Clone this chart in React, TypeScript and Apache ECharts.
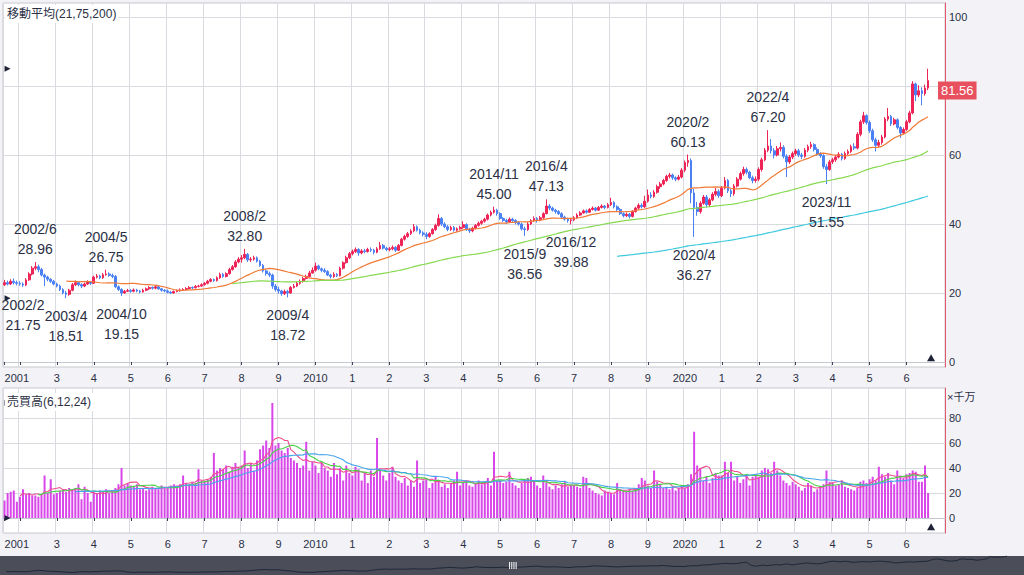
import React, { useEffect, useRef } from 'react';
import * as echarts from 'echarts';

// ---------- data (monthly, 2001/8 .. 2026/8) ----------
const START_YEAR = 2001;
const START_MONTH = 8;
const FIRST_OPEN = 22.4;

const closes = [
  23.0, 22.6, 23.4, 23.0, 22.8,
  22.6, 22.3, 23.8, 25.5, 27.2, 27.6, 26.8, 25.2, 24.6, 24.0, 23.4, 22.6,
  22.0, 21.0, 20.0, 19.6, 20.8, 22.4, 23.0, 22.4, 22.0, 22.6, 23.2, 22.8,
  24.6, 24.9, 24.4, 25.3, 25.5, 25.1, 24.8, 21.8, 21.0, 20.0, 20.5, 20.7,
  20.5, 20.9, 20.6, 20.3, 20.8, 21.2, 21.6, 21.4, 21.8, 21.2, 20.8, 20.6,
  20.2, 20.0, 20.4, 20.6, 20.9, 21.0, 21.3, 21.6, 21.5, 21.9, 22.0, 22.4,
  22.8, 23.4, 23.9, 23.6, 24.4, 25.4, 24.8, 25.6, 26.8, 27.6, 29.0, 29.8,
  30.2, 31.2, 29.6, 29.8, 30.2, 29.2, 28.0, 26.4, 25.6, 25.2, 22.0, 21.0,
  20.6, 19.8, 20.4, 20.0, 21.6, 22.0, 22.8, 23.4, 24.2, 24.8, 25.8, 26.6,
  27.8, 27.0, 26.6, 26.2, 25.2, 24.8, 25.4, 25.0, 27.2, 28.8, 30.2, 31.4,
  32.0, 32.6, 31.6, 32.2, 32.0, 32.6, 32.4, 31.8, 32.8, 33.8, 33.0, 32.6,
  32.8, 33.2, 32.4, 33.8, 35.6, 36.4, 37.2, 38.0, 39.2, 38.2, 37.4, 37.0,
  36.4, 37.2, 38.4, 39.6, 41.6, 40.0, 39.2, 38.4, 39.0, 38.2, 38.6, 39.0,
  39.8, 38.4, 38.0, 38.8, 39.6, 40.2, 40.8, 41.4, 42.6, 43.4, 44.0, 43.0,
  41.6, 41.0, 40.6, 41.4, 41.0, 40.4, 40.0, 38.6, 38.4, 40.0, 41.0, 41.6,
  41.2, 41.8, 43.0, 45.2, 44.6, 44.0, 43.6, 43.0, 42.0, 41.4, 41.0, 41.2,
  41.8, 42.6, 43.2, 43.8, 43.4, 44.2, 44.6, 44.0, 44.8, 45.2, 44.8, 45.6,
  46.2, 45.0, 44.2, 43.0, 42.4, 42.8, 42.2, 43.6, 44.6, 45.4, 45.0, 46.6,
  48.4, 48.0, 49.2, 50.8, 51.6, 52.6, 53.8, 54.2, 53.4, 53.0, 53.6, 55.6,
  57.8, 58.4, 49.0, 44.8, 43.6, 46.0, 47.8, 45.6, 47.0, 48.6, 49.4, 48.2,
  50.4, 52.6, 49.6, 48.8, 51.0, 53.0, 54.6, 55.8, 55.0, 53.4, 52.6, 53.0,
  55.8, 58.6, 61.4, 62.6, 61.2, 60.0, 61.8, 62.2, 59.6, 58.0, 59.4, 60.4,
  61.2, 60.0, 59.6, 61.4, 62.4, 63.0, 61.6, 60.2, 59.8, 56.6, 55.8, 58.0,
  58.6, 59.4, 60.2, 59.0, 60.4, 61.0, 62.4, 62.0, 66.0, 69.6, 71.4, 69.4,
  67.0, 64.4, 62.8, 63.6, 65.2, 70.4, 71.2, 69.0, 70.2, 68.0, 66.4, 67.4,
  69.6, 72.2, 80.6, 77.4, 78.6, 77.8, 79.4, 81.56,
];

const highs = [
  23.8, 23.6, 24.0, 24.2, 23.6,
  23.4, 23.1, 24.3, 26.0, 27.8, 28.96, 28.2, 27.3, 25.6, 25.0, 24.3, 23.8,
  23.0, 22.4, 21.4, 20.6, 21.2, 22.9, 23.6, 23.4, 22.8, 23.0, 23.7, 23.5,
  25.0, 25.5, 25.3, 25.8, 26.75, 26.0, 25.6, 25.2, 22.2, 21.4, 20.9, 21.2,
  21.1, 21.3, 21.2, 20.9, 21.2, 21.6, 22.0, 21.9, 22.2, 22.1, 21.5, 21.1,
  21.0, 20.6, 20.7, 21.0, 21.3, 21.4, 21.7, 22.0, 21.9, 22.3, 22.4, 22.8,
  23.2, 23.8, 24.3, 24.2, 24.8, 25.9, 25.8, 26.0, 27.3, 28.1, 29.5, 30.4,
  31.0, 32.8, 31.6, 30.4, 30.8, 30.6, 29.6, 28.4, 26.9, 26.2, 25.6, 22.6,
  21.8, 20.9, 21.0, 20.9, 22.0, 22.6, 23.3, 23.9, 24.7, 25.3, 26.4, 27.4,
  28.8, 28.2, 27.4, 27.2, 26.6, 25.6, 26.0, 25.8, 27.6, 29.2, 30.8, 31.9,
  32.6, 33.2, 33.0, 32.7, 32.8, 33.1, 33.2, 32.8, 33.3, 34.8, 34.2, 33.4,
  33.3, 33.8, 33.6, 34.2, 36.0, 36.9, 37.7, 38.5, 40.0, 39.6, 38.6, 37.9,
  37.6, 37.6, 38.8, 40.1, 42.8, 42.0, 40.5, 39.7, 39.5, 39.4, 39.0, 39.5,
  40.8, 40.2, 38.9, 39.2, 40.0, 40.7, 41.2, 41.8, 43.0, 43.9, 45.0, 44.4,
  43.4, 42.0, 41.5, 41.9, 41.8, 41.4, 40.8, 40.4, 39.2, 40.5, 41.4, 42.2,
  42.0, 42.3, 43.4, 47.13, 45.8, 45.0, 44.4, 44.0, 43.4, 42.4, 41.8, 41.8,
  42.3, 43.1, 43.7, 44.2, 44.2, 44.6, 45.1, 44.9, 45.2, 45.7, 45.5, 46.1,
  47.6, 46.6, 45.4, 44.6, 43.4, 43.3, 43.2, 44.0, 45.0, 46.0, 46.0, 48.2,
  50.0, 49.2, 49.8, 51.4, 52.2, 53.1, 54.3, 54.8, 54.6, 53.8, 54.2, 56.2,
  58.4, 60.13, 59.0, 50.2, 46.4, 46.6, 48.4, 48.4, 47.5, 49.2, 50.4, 50.0,
  51.0, 53.6, 53.0, 50.2, 51.6, 53.6, 55.2, 56.6, 56.4, 55.4, 54.0, 53.8,
  56.4, 59.2, 62.0, 67.2, 64.6, 62.0, 62.6, 63.6, 62.8, 60.2, 60.0, 61.0,
  61.8, 61.8, 60.6, 62.0, 63.0, 63.8, 63.4, 62.2, 60.8, 60.2, 57.4, 58.6,
  59.2, 60.0, 60.8, 60.6, 61.0, 61.6, 63.0, 63.4, 66.6, 70.2, 72.5, 71.8,
  70.0, 67.6, 65.0, 64.4, 65.8, 71.0, 73.6, 71.6, 70.8, 70.6, 68.4, 68.0,
  70.2, 72.8, 81.4, 81.0, 80.2, 79.6, 80.4, 85.0,
];

const lows = [
  22.0, 22.2, 22.3, 22.5, 22.2,
  22.1, 21.75, 22.0, 23.5, 25.1, 26.6, 26.0, 24.8, 22.0, 23.4, 22.9, 22.2,
  21.6, 20.6, 19.6, 18.51, 19.2, 20.5, 22.0, 21.9, 21.4, 21.7, 22.3, 22.3,
  22.6, 24.2, 24.0, 24.1, 25.0, 24.7, 24.3, 21.4, 20.6, 19.15, 19.8, 20.3,
  20.1, 20.2, 20.2, 19.9, 20.1, 20.5, 20.9, 21.0, 21.1, 20.9, 20.4, 20.2,
  19.9, 19.7, 19.8, 20.2, 20.4, 20.6, 20.8, 21.1, 21.1, 21.3, 21.6, 21.8,
  22.1, 22.5, 23.1, 23.2, 23.3, 24.1, 24.4, 24.5, 25.3, 26.5, 27.3, 28.6,
  28.8, 29.8, 29.0, 29.0, 29.4, 28.8, 27.6, 25.9, 25.0, 24.6, 21.2, 20.4,
  19.8, 19.2, 19.4, 18.72, 19.8, 21.3, 21.7, 22.4, 23.0, 23.9, 24.5, 25.6,
  26.2, 26.6, 26.0, 25.8, 24.9, 24.2, 24.4, 24.6, 24.8, 26.8, 28.5, 29.8,
  30.9, 31.6, 30.8, 31.2, 31.5, 31.7, 31.9, 31.2, 31.5, 32.5, 32.6, 32.1,
  32.1, 32.4, 31.9, 32.2, 33.5, 35.2, 36.0, 36.8, 37.6, 37.8, 37.0, 36.4,
  35.6, 36.0, 36.9, 38.0, 39.2, 39.4, 38.8, 37.9, 38.0, 37.8, 37.8, 38.3,
  38.6, 38.0, 37.4, 37.6, 38.4, 39.2, 39.8, 40.4, 41.0, 42.2, 43.0, 42.4,
  41.2, 40.6, 40.0, 40.3, 40.6, 39.9, 39.5, 38.1, 36.56, 38.0, 39.7, 40.6,
  40.4, 40.8, 41.5, 42.8, 44.0, 43.6, 43.0, 42.6, 41.6, 41.0, 40.4, 39.88,
  40.8, 41.5, 42.3, 43.0, 43.0, 43.2, 43.9, 43.6, 43.8, 44.5, 44.3, 44.5,
  45.2, 44.5, 43.7, 42.6, 41.9, 42.0, 41.6, 41.9, 43.3, 44.2, 44.5, 44.6,
  46.2, 47.4, 47.6, 48.8, 50.2, 51.2, 52.2, 53.2, 52.8, 52.4, 52.6, 53.2,
  55.0, 56.6, 46.0, 36.27, 42.4, 43.0, 45.6, 44.8, 44.9, 46.6, 48.0, 47.6,
  47.8, 50.0, 49.0, 47.8, 48.2, 50.6, 52.6, 54.0, 54.4, 53.0, 51.8, 52.0,
  52.4, 55.2, 58.2, 60.8, 60.4, 59.0, 59.6, 61.0, 59.0, 53.6, 57.4, 58.8,
  59.8, 59.4, 58.8, 59.2, 60.8, 61.8, 61.0, 59.8, 59.2, 56.0, 51.55, 55.4,
  57.4, 58.0, 59.0, 58.4, 58.6, 60.0, 60.6, 61.4, 61.6, 65.4, 69.0, 68.8,
  66.4, 63.8, 61.0, 62.2, 63.0, 64.8, 69.8, 68.4, 68.6, 67.4, 65.0, 66.0,
  67.0, 69.2, 71.8, 75.6, 76.8, 74.4, 77.2, 78.8,
];

// 売買高 (×千万)
const volumes = [
  14, 20, 21, 22, 13,
  17, 23, 19, 20, 18, 18, 17, 19, 34, 20, 31, 19,
  20, 22, 23, 21, 24, 23, 24, 27, 15, 25, 20, 13,
  21, 20, 22, 21, 23, 20, 22, 24, 27, 40, 26, 28,
  26, 25, 27, 23, 24, 22, 23, 25, 24, 23, 26, 25,
  24, 26, 27, 25, 27, 34, 28, 27, 29, 28, 39, 30,
  29, 31, 33, 52, 38, 40, 39, 42, 37, 41, 44, 40,
  42, 54, 40, 44, 38, 46, 55, 58, 62, 56, 92, 58,
  60, 54, 52, 56, 48, 46, 44, 40, 42, 61, 38, 45,
  42, 36, 44, 40, 38, 33, 44, 35, 40, 30, 42, 36,
  34, 41, 39, 30, 36, 28, 38, 33, 64, 38, 34, 30,
  36, 41, 33, 30, 28, 32, 26, 30, 25, 46, 28, 30,
  31, 24, 28, 33, 30, 25, 27, 24, 28, 30, 37, 26,
  28, 30, 26, 25, 28, 30, 27, 29, 32, 26, 53, 30,
  30, 28, 29, 37, 28, 26, 24, 28, 31, 32, 33, 30,
  26, 24, 34, 28, 25, 23, 26, 24, 27, 29, 25, 26,
  26, 25, 24, 33, 32, 24, 22, 20, 19, 18, 22, 21,
  20, 19, 28, 23, 22, 21, 23, 22, 24, 27, 32, 30,
  26, 24, 38, 29, 27, 24, 25, 23, 25, 22, 24, 26,
  24, 27, 35, 69, 42, 40, 30, 33, 28, 32, 36, 34,
  34, 45, 36, 45, 30, 33, 28, 31, 34, 26, 33, 35,
  33, 38, 40, 39, 36, 45, 38, 34, 30, 28, 26, 29,
  27, 25, 22, 24, 28, 26, 21, 23, 25, 27, 38, 29,
  28, 26, 27, 30, 25, 24, 23, 22, 24, 29, 30, 28,
  31, 33, 30, 41, 35, 33, 36, 30, 27, 38, 34, 32,
  35, 36, 38, 37, 29, 29, 42, 20,
];

const PRICE_MA = [21, 75, 200];
const VOLUME_MA = [6, 12, 24];
const priceTicks = [0, 20, 40, 60, 80, 100];
const volumeTicks = [0, 20, 40, 60, 80];

// labelled extremes: [month, kind]
const extremes: [string, 'high' | 'low'][] = [
  ['2002/2', 'low'], ['2002/6', 'high'], ['2003/4', 'low'], ['2004/5', 'high'],
  ['2004/10', 'low'], ['2008/2', 'high'], ['2009/4', 'low'], ['2014/11', 'high'],
  ['2015/9', 'low'], ['2016/4', 'high'], ['2016/12', 'low'], ['2020/2', 'high'],
  ['2020/4', 'low'], ['2022/4', 'high'], ['2023/11', 'low'],
];

// ---------- derived ----------
const categories: string[] = closes.map((_, i) => {
  const m0 = START_MONTH - 1 + i;
  return `${START_YEAR + Math.floor(m0 / 12)}/${(m0 % 12) + 1}`;
});
const PAD_SLOTS = 5;
const axisCats = categories.concat(new Array(PAD_SLOTS).fill(''));
const opens = closes.map((c, i) => (i === 0 ? FIRST_OPEN : closes[i - 1]));
const ohlc = closes.map((c, i) => [opens[i], c, lows[i], highs[i]]);
const LAST = closes.length - 1;

function movingAverage(src: number[], n: number) {
  return src.map((_, i) => {
    if (i < n - 1) return '-';
    let s = 0;
    for (let k = i - n + 1; k <= i; k++) s += src[k];
    return +(s / n).toFixed(3);
  });
}

const yearOf = (c: string) => Number(c.split('/')[0]);
const monthOf = (c: string) => Number(c.split('/')[1]);
const isGrid = (i: number) => {
  const c = axisCats[i];
  return !!c && (i === 0 || monthOf(c) === 1);
};
const isLabel = (i: number) => isGrid(i) && !(i !== 0 && yearOf(axisCats[i]) === START_YEAR + 1);
const yearLabel = (v: string, i: number) => {
  if (!v) return '';
  const y = yearOf(v);
  if (i === 0 || y % 10 === 0) return String(y);
  return String(y % 10);
};

// ---------- styles ----------
const FONT = '"Liberation Sans", Arial, "Noto Sans CJK JP", sans-serif';
const INK = '#2a2f45';
const GRID_LINE = '#d9dbe0';
const FRAME = '#c5c8cf';
const AXIS_RED = '#e8566a';
const UP = '#ee2456';
const DOWN = '#4a80f4';
const MARK = '#1d2236';
const PRICE_MA_COLORS = ['#f07a36', '#86d94e', '#3ec9de'];
const VOLUME_MA_COLORS = ['#ee4f8e', '#47d147', '#45a5ea'];

// layout (pixels)
const PRICE_MIN = -1.45;
const PRICE_MAX = 104.05;
const VOL_MIN = -12;
const VOL_MAX = 104;

function xAxisFor(gridIndex: number) {
  return {
    type: 'category',
    gridIndex,
    data: axisCats,
    boundaryGap: true,
    axisLine: { show: true, lineStyle: { color: FRAME } },
    axisTick: {
      show: true,
      alignWithLabel: true,
      interval: (i: number) => isGrid(i),
      length: 3,
      lineStyle: { color: '#3a3f55' },
    },
    axisLabel: {
      show: true,
      interval: (i: number) => isLabel(i),
      formatter: (v: string, i: number) => yearLabel(v, i),
      alignMinLabel: 'left',
      fontSize: 11,
      color: INK,
      margin: 5,
      fontFamily: FONT,
    },
    splitLine: { show: true, interval: (i: number) => isGrid(i), lineStyle: { color: GRID_LINE, width: 1 } },
  };
}

function yAxisFor(gridIndex: number, min: number, max: number, ticks: number[]) {
  return {
    type: 'value',
    gridIndex,
    position: 'right',
    min,
    max,
    axisLine: { show: true, lineStyle: { color: AXIS_RED, width: 1 } },
    axisTick: { show: false, customValues: ticks },
    axisLabel: { customValues: ticks, fontSize: 11, color: INK, margin: 4, fontFamily: FONT },
    splitLine: { show: true, lineStyle: { color: GRID_LINE, width: 1 } },
  };
}

function buildOption() {
  const maxHigh = Math.max(...highs);
  const minLow = Math.min(...lows);
  const maxVol = Math.max(...volumes);
  const lastClose = closes[LAST];

  const extremePoints = extremes.map(([name, kind]) => {
    const idx = categories.indexOf(name);
    const v = kind === 'high' ? highs[idx] : lows[idx];
    return {
      name,
      coord: [idx, v],
      symbol: 'circle',
      symbolSize: 0,
      itemStyle: { color: 'rgba(0,0,0,0)' },
      label: {
        show: true,
        position: kind === 'high' ? 'top' : 'bottom',
        distance: kind === 'high' ? 3 : 8,
        formatter: `${name}\n${v.toFixed(2)}`,
        fontSize: 14,
        lineHeight: 20,
        color: INK,
        fontFamily: FONT,
      },
    };
  });

  const tri = (coord: [number, number], rotate: number, offset: [number, number], size: number | number[]) => ({
    coord,
    symbol: 'triangle',
    symbolSize: size,
    symbolRotate: rotate,
    symbolOffset: offset,
    itemStyle: { color: MARK },
    label: { show: false },
  });

  const grip = [0, 1, 2, 3].map((k) => ({
    type: 'rect',
    z: 5,
    shape: { x: 509 + k * 2.2, y: 562, width: 1.1, height: 7 },
    style: { fill: '#eeeef3' },
  }));

  return {
    animation: false,
    backgroundColor: '#f3f3f7',
    textStyle: { fontFamily: FONT },
    title: [
      {
        text: '移動平均(21,75,200)',
        left: 5,
        top: 5,
        padding: [3, 2, 3, 2],
        backgroundColor: '#fff',
        textStyle: { fontSize: 12, fontWeight: 'normal', color: INK, fontFamily: FONT },
      },
      {
        text: '売買高(6,12,24)',
        left: 5,
        top: 393,
        padding: [3, 2, 3, 2],
        backgroundColor: '#fff',
        textStyle: { fontSize: 12, fontWeight: 'normal', color: INK, fontFamily: FONT },
      },
    ],
    grid: [
      { left: 3, right: 79, top: 3, bottom: 208, show: true, backgroundColor: '#fff', borderColor: FRAME, borderWidth: 1, outerBoundsMode: 'none' },
      { left: 3, right: 79, top: 388, bottom: 42, show: true, backgroundColor: '#fff', borderColor: FRAME, borderWidth: 1, outerBoundsMode: 'none' },
      { left: 6, right: 17, top: 554, bottom: 0, show: false, outerBoundsMode: 'none' },
    ],
    xAxis: [
      xAxisFor(0),
      xAxisFor(1),
      { type: 'category', gridIndex: 2, data: categories, boundaryGap: false, show: false },
    ],
    yAxis: [
      yAxisFor(0, PRICE_MIN, PRICE_MAX, priceTicks),
      yAxisFor(1, VOL_MIN, VOL_MAX, volumeTicks),
      { type: 'value', gridIndex: 2, min: 10, max: 90, show: false },
    ],
    series: [
      {
        type: 'candlestick',
        name: 'price',
        xAxisIndex: 0,
        yAxisIndex: 0,
        data: ohlc,
        barWidth: '72%',
        itemStyle: { color: UP, color0: DOWN, borderColor: UP, borderColor0: DOWN, borderWidth: 1 },
        markPoint: {
          silent: true,
          data: [
            ...extremePoints,
            tri([0, maxHigh], -90, [3, 0], 6),
            tri([0, minLow], -90, [3, 0], 6),
            tri([LAST, 1.2], 0, [3, 0], [8, 7]),
          ],
        },
        markLine: {
          silent: true,
          symbol: ['none', 'none'],
          lineStyle: { color: 'rgba(0,0,0,0)', width: 1, type: 'solid' },
          label: {
            show: true,
            position: 'end',
            distance: -7,
            offset: [0, 10],
            formatter: lastClose.toFixed(2),
            color: '#ffffff',
            opacity: 1,
            backgroundColor: '#e8505d',
            padding: [3, 3, 2, 3],
            fontSize: 13,
            fontFamily: FONT,
          },
          emphasis: { disabled: true },
          data: [{ yAxis: lastClose }],
        },
      },
      ...PRICE_MA.map((n, k) => ({
        type: 'line',
        name: `MA${n}`,
        xAxisIndex: 0,
        yAxisIndex: 0,
        data: movingAverage(closes, n),
        symbol: 'none',
        silent: true,
        z: 3,
        lineStyle: { color: PRICE_MA_COLORS[k], width: 1.2 },
        itemStyle: { color: PRICE_MA_COLORS[k] },
      })),
      {
        type: 'bar',
        name: 'volume',
        xAxisIndex: 1,
        yAxisIndex: 1,
        data: volumes,
        barCategoryGap: '35%',
        itemStyle: { color: '#d846ea' },
        markPoint: {
          silent: true,
          data: [
            tri([0, maxVol], -90, [3, 0], 6),
            tri([0, 0], -90, [3, 0], 6),
            tri([LAST, -7], 0, [3, 0], [8, 7]),
          ],
        },
      },
      ...VOLUME_MA.map((n, k) => ({
        type: 'line',
        name: `VMA${n}`,
        xAxisIndex: 1,
        yAxisIndex: 1,
        data: movingAverage(volumes, n),
        symbol: 'none',
        silent: true,
        z: 3,
        lineStyle: { color: VOLUME_MA_COLORS[k], width: 1.1 },
        itemStyle: { color: VOLUME_MA_COLORS[k] },
      })),
      {
        type: 'line',
        name: 'navigator',
        xAxisIndex: 2,
        yAxisIndex: 2,
        data: closes,
        symbol: 'none',
        silent: true,
        z: 4,
        lineStyle: { color: '#1f2738', width: 1 },
      },
    ],
    graphic: [
      { type: 'rect', z: -1, shape: { x: 0, y: 556, width: 1024, height: 19 }, style: { fill: '#4b4e59' } },
      ...grip,
      {
        type: 'text',
        x: 947,
        y: 397,
        z: 5,
        style: { text: '×千万', font: `11px ${FONT}`, fill: INK, verticalAlign: 'middle' },
      },
    ],
  };
}

export default function App() {
  const ref = useRef<HTMLDivElement>(null);
  useEffect(() => {
    if (!ref.current) return;
    const chart = echarts.init(ref.current, undefined, { renderer: 'svg' });
    chart.setOption(buildOption() as any);
    return () => chart.dispose();
  }, []);
  return <div ref={ref} style={{ position: 'fixed', left: 0, top: 0, width: 1024, height: 575 }} />;
}
